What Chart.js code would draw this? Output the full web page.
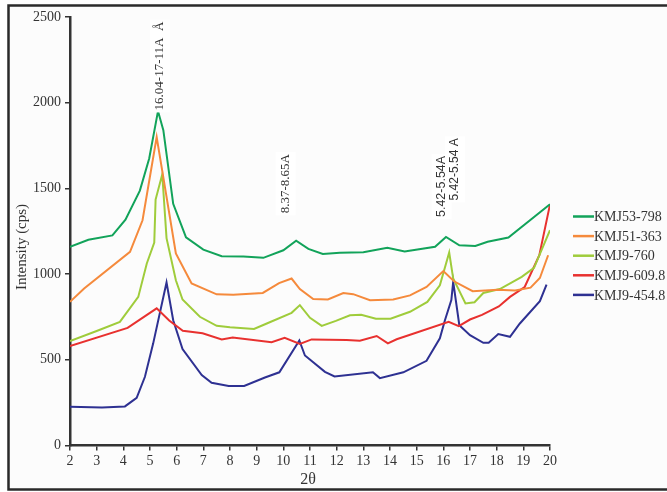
<!DOCTYPE html>
<html>
<head>
<meta charset="utf-8">
<script src="https://cdn.jsdelivr.net/npm/chart.js@4.4.1/dist/chart.umd.min.js"></script>
<style>
  html, body { margin: 0; padding: 0; background: #fff; }
  #wrap { width: 667px; height: 492px; }
</style>
</head>
<body>
<div id="wrap"><canvas id="xrdChart" width="667" height="492"></canvas></div>
<script>
// Series (2θ vs intensity)
const seriesLabels = ['KMJ53-798', 'KMJ51-363', 'KMJ9-760', 'KMJ9-609.8', 'KMJ9-454.8'];
const seriesColors = ['#12a35a', '#f58a3c', '#9fcc3b', '#e8312f', '#2e3192'];

const xKmj53 = [2, 2.69, 3.59, 4.08, 4.62, 4.97, 5.3, 5.5, 5.87, 6.35, 7.0, 7.69, 8.5, 9.25, 10.0, 10.48, 10.94, 11.48, 12.12, 13.0, 13.9, 14.55, 15.69, 16.1, 16.6, 17.2, 17.66, 18.44, 20];
const yKmj53 = [1159, 1200, 1226, 1318, 1487, 1675, 1951, 1840, 1410, 1215, 1143, 1104, 1102, 1095, 1139, 1195, 1147, 1118, 1124, 1128, 1153, 1132, 1159, 1217, 1168, 1164, 1189, 1213, 1407];

const xKmj51 = [2, 2.53, 4.25, 4.72, 5.25, 5.97, 6.56, 7.5, 8.12, 9.23, 9.84, 10.31, 10.62, 11.12, 11.67, 12.25, 12.62, 13.25, 14.12, 14.75, 15.37, 16.0, 16.4, 17.1, 18.03, 18.69, 19.27, 19.62, 19.93];
const yKmj51 = [838, 916, 1130, 1314, 1800, 1120, 945, 882, 880, 890, 947, 974, 913, 854, 852, 890, 883, 848, 852, 876, 925, 1018, 958, 900, 908, 904, 921, 977, 1110];

const xKmj9a = [2, 3, 3.87, 4.56, 4.88, 5.16, 5.21, 5.46, 5.62, 5.97, 6.22, 6.87, 7.5, 8.0, 8.9, 9.38, 10.31, 10.62, 11.0, 11.44, 11.97, 12.5, 12.92, 13.47, 14.02, 14.75, 15.4, 15.87, 16.22, 16.37, 16.83, 17.17, 17.5, 18.12, 18.94, 19.4, 20];
const yKmj9a = [609, 668, 721, 867, 1062, 1184, 1435, 1582, 1210, 964, 852, 751, 698, 690, 680, 712, 774, 819, 745, 698, 727, 760, 763, 739, 740, 780, 838, 935, 1126, 974, 829, 836, 890, 913, 984, 1036, 1256];

const xKmj9b = [2, 4.16, 5.25, 5.72, 6.23, 6.97, 7.69, 8.1, 9.56, 10.05, 10.62, 11.06, 12.37, 12.87, 13.5, 13.92, 14.25, 16.2, 16.58, 17.0, 17.45, 18.08, 18.5, 19.05, 19.6, 20];
const yKmj9b = [580, 686, 800, 729, 669, 655, 619, 630, 602, 628, 592, 619, 615, 611, 639, 596, 620, 721, 696, 735, 762, 811, 867, 925, 1110, 1407];

const xKmj9c = [2, 3.2, 4.06, 4.5, 4.81, 5.12, 5.62, 5.87, 6.22, 6.94, 7.31, 7.95, 8.53, 9.31, 9.85, 10.6, 10.81, 11.56, 11.92, 13.36, 13.62, 14.5, 15.37, 15.87, 16.06, 16.3, 16.37, 16.6, 17.0, 17.5, 17.7, 18.06, 18.5, 18.87, 19.62, 19.87];
const yKmj9c = [226, 222, 228, 278, 401, 596, 951, 731, 563, 411, 366, 347, 347, 397, 427, 613, 525, 430, 403, 427, 393, 427, 494, 625, 731, 848, 955, 702, 644, 599, 599, 650, 634, 712, 842, 939];

const seriesX = [xKmj53, xKmj51, xKmj9a, xKmj9b, xKmj9c];
const seriesY = [yKmj53, yKmj51, yKmj9a, yKmj9b, yKmj9c];

// Peak labels (d-spacing), anchored at 2θ / intensity
const annoText = ['16.04-17-11A  Å', '8.37-8.65A', '5.42-5.54A', '5.42-5.54 A'];
const annoX = [5.37, 10.09, 15.94, 16.44];
const annoY = [1955, 1355, 1333, 1430];
const annoFont = ['13px "Liberation Serif"', '13px "Liberation Serif"', '12.5px "Liberation Sans"', '12px "Liberation Sans"'];

const serif = '"Liberation Serif", "Times New Roman", serif';
const inkColor = '#333';

// frame, axis titles, peak labels and legend
const decorations = {
    id: 'decorations',
    beforeDraw(chart) {
        const ctx = chart.ctx;
        ctx.save();
        ctx.fillStyle = '#fff';
        ctx.fillRect(0, 0, chart.width, chart.height);
        ctx.fillStyle = '#fcfcfc';
        ctx.fillRect(9, 6, chart.width - 9, 483);
        ctx.strokeStyle = '#2a2a2a';
        ctx.lineWidth = 2.5;
        ctx.beginPath();
        ctx.moveTo(chart.width, 5.5);
        ctx.lineTo(8.5, 5.5);
        ctx.lineTo(8.5, 489.5);
        ctx.lineTo(chart.width, 489.5);
        ctx.stroke();
        ctx.restore();
    },
    afterDatasetsDraw(chart) {
        const ctx = chart.ctx;
        const xs = chart.scales.x, ys = chart.scales.y;
        ctx.save();
        // peak labels
        annoText.forEach((t, i) => {
            const px = xs.getPixelForValue(annoX[i]);
            const py = ys.getPixelForValue(annoY[i]);
            ctx.save();
            ctx.translate(px, py);
            ctx.rotate(-Math.PI / 2);
            ctx.font = annoFont[i];
            const w = ctx.measureText(t).width;
            ctx.fillStyle = '#fff';
            ctx.fillRect(-2, -10, w + 4, 20);
            ctx.fillStyle = inkColor;
            ctx.textAlign = 'left';
            ctx.textBaseline = 'middle';
            ctx.fillText(t, 0, 0);
            ctx.restore();
        });
        // axis titles
        ctx.fillStyle = inkColor;
        ctx.font = '15px ' + serif;
        ctx.textAlign = 'center';
        ctx.textBaseline = 'middle';
        ctx.save();
        ctx.translate(22, 247);
        ctx.rotate(-Math.PI / 2);
        ctx.fillText('Intensity (cps)', 0, 0);
        ctx.restore();
        ctx.font = '16px ' + serif;
        ctx.fillText('2θ', (xs.left + xs.right) / 2 - 2, 480);
        // legend
        const lx = chart.chartArea.right + 23;
        chart.data.datasets.forEach((ds, i) => {
            const ly = 216.5 + i * 19.6;
            ctx.strokeStyle = ds.borderColor;
            ctx.lineWidth = 2.5;
            ctx.beginPath();
            ctx.moveTo(lx, ly);
            ctx.lineTo(lx + 21, ly);
            ctx.stroke();
            ctx.fillStyle = inkColor;
            ctx.font = '14px ' + serif;
            ctx.textAlign = 'left';
            ctx.fillText(ds.label, lx + 21, ly + 1);
        });
        ctx.restore();
    }
};

const ctxXrd = document.getElementById('xrdChart').getContext('2d');
new Chart(ctxXrd, {
    type: 'line',
    data: {
        datasets: seriesLabels.map((name, i) => ({
            label: name,
            data: seriesX[i].map((x, j) => ({ x: x, y: seriesY[i][j] })),
            borderColor: seriesColors[i],
            backgroundColor: seriesColors[i],
            borderWidth: 2,
            pointRadius: 0,
            tension: 0,
            fill: false
        }))
    },
    options: {
        responsive: false,
        animation: false,
        layout: { padding: { left: 10, right: 117, top: 17, bottom: 0 } },
        plugins: {
            legend: { display: false },
            tooltip: { enabled: false }
        },
        scales: {
            x: {
                type: 'linear',
                min: 2,
                max: 20,
                afterFit: s => { s.height = 46.5; },
                border: { color: inkColor, width: 2.5 },
                grid: { drawOnChartArea: false, drawTicks: true, tickLength: 5, color: inkColor, lineWidth: 1.5 },
                ticks: { stepSize: 1, padding: 2, color: inkColor, font: { family: serif, size: 14 },
                         callback: v => String(v) }
            },
            y: {
                min: 0,
                max: 2500,
                afterFit: s => { s.width = 60; },
                border: { color: inkColor, width: 2.5 },
                grid: { drawOnChartArea: false, drawTicks: true, tickLength: 5, color: inkColor, lineWidth: 1.5 },
                ticks: { stepSize: 500, padding: 4, color: inkColor, font: { family: serif, size: 14 },
                         callback: v => String(v) }
            }
        }
    },
    plugins: [decorations]
});
</script>
</body>
</html>
